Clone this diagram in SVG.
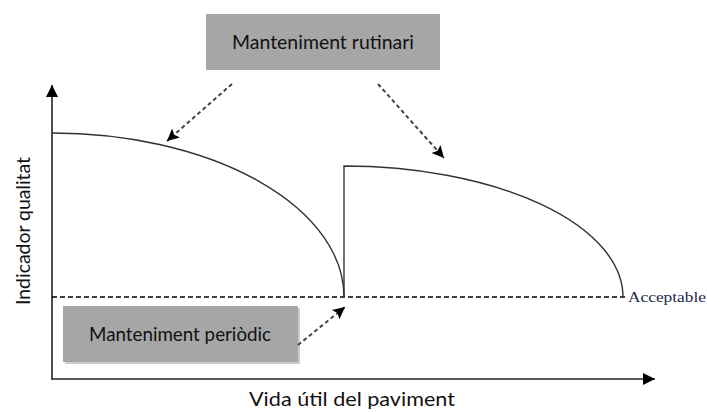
<svg xmlns="http://www.w3.org/2000/svg" width="707" height="412" viewBox="0 0 707 412">
<style>
.lbl{font-family:Lato,"Liberation Sans",sans-serif;font-size:19px;fill:#111;text-anchor:middle}
.box{fill:#a6a6a6}
.axis{stroke:#222;stroke-width:1.6;fill:none}
.curve{stroke:#333;stroke-width:1.4;fill:none}
.dash{stroke:#000;stroke-width:1.4;stroke-dasharray:5 3;fill:none}
.conn{stroke:#444;stroke-width:2;stroke-dasharray:4 3;fill:none}
</style>
<defs>
<marker id="ch" viewBox="0 0 10 10" refX="10" refY="5" markerWidth="14" markerHeight="12" markerUnits="userSpaceOnUse" orient="auto">
<path d="M0,0 L10,5 L0,10 L2,5 Z" fill="#000"/>
</marker>
<marker id="axh" viewBox="0 0 10 10" refX="10" refY="5" markerWidth="18" markerHeight="12" markerUnits="userSpaceOnUse" orient="auto">
<path d="M0,0 L10,5 L0,10 Z" fill="#000"/>
</marker>
</defs>
<g id="axes">
<line class="axis" x1="52" y1="379" x2="52" y2="85" marker-end="url(#axh)"/>
<line class="axis" x1="51" y1="379" x2="655" y2="379" marker-end="url(#axh)"/>
<text class="lbl" transform="translate(30,231) rotate(-90)" textLength="148" lengthAdjust="spacingAndGlyphs">Indicador qualitat</text>
<text class="lbl" x="352" y="406" textLength="206" lengthAdjust="spacingAndGlyphs">Vida útil del paviment</text>
</g>
<g id="curves">
<line class="dash" x1="52" y1="297" x2="626" y2="297"/>
<path class="curve" d="M52,133 A292,164 0 0 1 344,297"/>
<path class="curve" d="M344,297 L344,166 A279,131 0 0 1 623,297"/>
<text x="628" y="302" font-family="Liberation Serif,serif" font-size="15" fill="#1a2a4a" textLength="78" lengthAdjust="spacingAndGlyphs">Acceptable</text>
</g>
<g id="rutinari">
<rect class="box" x="206" y="14" width="234" height="56"/>
<text class="lbl" x="323" y="49" textLength="182" lengthAdjust="spacingAndGlyphs">Manteniment rutinari</text>
</g>
<g id="periodic">
<rect x="65" y="308" width="235" height="56" fill="#ccc"/>
<rect class="box" x="63" y="306" width="235" height="56"/>
<text class="lbl" x="180" y="341" textLength="182" lengthAdjust="spacingAndGlyphs">Manteniment periòdic</text>
</g>
<g id="connectors">
<line class="conn" x1="232" y1="84" x2="167" y2="141" marker-end="url(#ch)"/>
<line class="conn" x1="378" y1="84" x2="444" y2="158" marker-end="url(#ch)"/>
<line class="conn" x1="298" y1="345" x2="345" y2="307" marker-end="url(#ch)"/>
</g>
</svg>
